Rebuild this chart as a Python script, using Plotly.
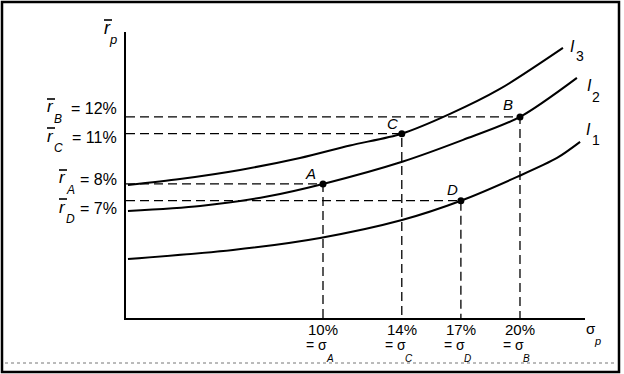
import plotly.graph_objects as go

# ---- data ----
point_names = ["A", "B", "C", "D"]
point_sigma = [10, 20, 14, 17]      # sigma, %
point_return = [8, 12, 11, 7]       # expected return, %
sigma_labels = ["10%", "20%", "14%", "17%"]
return_labels = ["= 8%", "= 12%", "= 11%", "= 7%"]

i3_x = [0.1, 2.74, 5.79, 8.83, 11.37, 14.0, 16.45, 18.98, 22.18]
i3_y = [7.94, 8.30, 8.84, 9.55, 10.30, 11.0, 12.18, 13.67, 16.12]
i2_x = [0.1, 3.76, 7.16, 10.0, 14.06, 17.11, 20.0, 22.89]
i2_y = [6.39, 6.69, 7.25, 8.0, 9.34, 10.63, 12.0, 14.33]
i1_x = [0.1, 5.43, 9.85, 14.01, 17.0, 19.85, 21.88, 23.05]
i1_y = [3.52, 4.06, 4.78, 5.85, 7.0, 8.42, 9.55, 10.51]

W, H = 624, 374
ML, MR, MT, MB = 126, 39, 32, 56
PW, PH = W - ML - MR, H - MT - MB
XMAX, YMAX = 23.3, 17.07


def px(x):
    return (x - ML) / PW


def py(y):
    return (H - MB - y) / PH


FONT = "Liberation Sans, Arial, sans-serif"
fig = go.Figure()

# dashed guide lines
for s, r in zip(point_sigma, point_return):
    fig.add_trace(go.Scatter(x=[0, s, s], y=[r, r, 0], mode="lines",
                             line=dict(color="black", width=1.3, dash="9px,5px"),
                             hoverinfo="skip", showlegend=False))

for xs, ys in [(i1_x, i1_y), (i2_x, i2_y), (i3_x, i3_y)]:
    fig.add_trace(go.Scatter(x=xs, y=ys, mode="lines",
                             line=dict(color="black", width=2, shape="spline", smoothing=0.8),
                             hoverinfo="skip", showlegend=False))

fig.add_trace(go.Scatter(x=point_sigma, y=point_return, mode="markers",
                         marker=dict(color="black", size=7),
                         hoverinfo="skip", showlegend=False))

ann = []
shapes = []


def text(x, y, t, size=15, italic=False, xanchor="center"):
    if italic:
        t = "<i>" + t + "</i>"
    ann.append(dict(x=px(x), y=py(y), xref="paper", yref="paper", text=t,
                    showarrow=False, xanchor=xanchor, yanchor="middle", borderpad=0,
                    font=dict(family=FONT, size=size, color="black")))


def rbar(x, y, size=17):
    # italic r with an overbar
    text(x, y, "r", size=size, italic=True)
    shapes.append(dict(type="line", xref="paper", yref="paper",
                       x0=px(x - 3), x1=px(x + 5), y0=py(y - 8), y1=py(y - 8),
                       line=dict(color="black", width=1.6)))


# point labels
pt_lab_pos = {"A": (310, 173), "B": (508, 105), "C": (392, 123), "D": (452, 189)}
for n in point_names:
    text(*pt_lab_pos[n], n, size=15, italic=True)

# y-side labels
ylab_pos = {"A": (62, 178), "B": (50, 107), "C": (50, 136), "D": (62, 207)}
for n, rl in zip(point_names, return_labels):
    rx, ry = ylab_pos[n]
    rbar(rx, ry)
    text(rx + 8, ry + 12, n, size=12, italic=True)
    text(118, ry + 1, rl, size=16, xanchor="right")

# x-side labels
for n, sl, s in zip(point_names, sigma_labels, point_sigma):
    cx = ML + s * PW / XMAX
    text(cx, 329, sl, size=15)
    text(cx - 6, 345, "= \u03c3", size=14)
    text(cx + 7, 358, n, size=10, italic=True)

# axis titles
rbar(107, 28, size=18)
text(113, 39, "p", size=13, italic=True)
text(591, 328, "\u03c3", size=15)
text(597, 341, "p", size=11, italic=True)

# curve labels
text(572, 46, "I", size=16, italic=True)
text(580, 56, "3", size=14)
text(589, 85, "I", size=16, italic=True)
text(596, 97, "2", size=14)
text(588, 129, "I", size=16, italic=True)
text(596, 140, "1", size=14)

shapes += [
    dict(type="rect", xref="paper", yref="paper", x0=px(2), x1=px(619), y0=py(372), y1=py(2),
         line=dict(color="black", width=2.5)),
    dict(type="line", xref="paper", yref="paper", x0=px(5), x1=px(617), y0=py(363), y1=py(363),
         line=dict(color="#777777", width=1, dash="dot")),
]

fig.update_layout(
    width=W, height=H,
    margin=dict(l=ML, r=MR, t=MT, b=MB, autoexpand=False),
    paper_bgcolor="white", plot_bgcolor="white",
    xaxis=dict(range=[0, XMAX], showgrid=False, zeroline=False, showticklabels=False,
               showline=True, linecolor="black", linewidth=2, ticks=""),
    yaxis=dict(range=[0, YMAX], showgrid=False, zeroline=False, showticklabels=False,
               showline=True, linecolor="black", linewidth=2, ticks=""),
    annotations=ann, shapes=shapes, showlegend=False,
)

fig.write_html("out.html", config={"displayModeBar": False},
               post_script="document.body.style.margin='0';")
